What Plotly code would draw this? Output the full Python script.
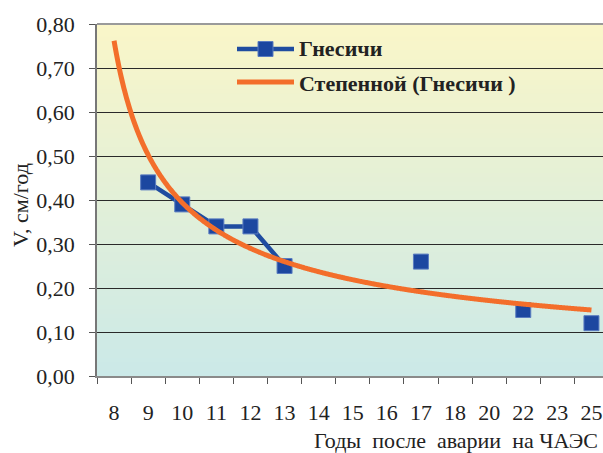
import numpy as np
import plotly.graph_objects as go

# ---- data ----
categories = ["8", "9", "10", "11", "12", "13", "14", "15", "16", "17", "18", "20", "22", "23", "25"]
gnesichi = [None, 0.44, 0.39, 0.34, 0.34, 0.25, None, None, None, 0.26, None, None, 0.15, None, 0.12]
y_ticks = [0.0, 0.1, 0.2, 0.3, 0.4, 0.5, 0.6, 0.7, 0.8]
series_name = "Гнесичи"
trend_name = "Степенной (Гнесичи )"
x_title = "Годы\u00a0\u00a0после\u00a0\u00a0аварии\u00a0\u00a0на ЧАЭС"
y_title = "V, см/год"

# ---- power trendline (Excel-style, x = category index) ----
idx = np.arange(1, len(categories) + 1)
xs = np.array([i for i, v in zip(idx, gnesichi) if v is not None], dtype=float)
ys = np.array([v for v in gnesichi if v is not None], dtype=float)
b, lna = np.polyfit(np.log(xs), np.log(ys), 1)
xt = np.linspace(1, len(categories), 400)
yt = np.exp(lna) * xt ** b

# ---- geometry helpers (pixel -> paper) ----
W, H = 603, 453
L, R, T, B = 97, 0, 24, 77
PW, PH = W - L - R, H - T - B
cat_px = 34.1


def px(x):
    return (x - L) / PW


def py(y):
    return (H - B - y) / PH


top_rgb = np.array([250, 246, 200])
bot_rgb = np.array([203, 233, 232])


def grad(frac_from_top):
    c = top_rgb + (bot_rgb - top_rgb) * frac_from_top
    return "rgb(%d,%d,%d)" % tuple(np.round(c).astype(int))


BLUE = "#1F4CA0"
ORANGE = "#F36E2B"
FONT = "'Times New Roman', 'Liberation Serif', 'DejaVu Serif', serif"
TXT = "#222"

fig = go.Figure()
fig.add_trace(go.Scatter(
    x=idx, y=gnesichi, mode="lines+markers", name=series_name,
    line=dict(color=BLUE, width=4.5),
    marker=dict(symbol="square", size=15, color="#1C47A0",
                line=dict(color="#5A7CC0", width=1)),
    connectgaps=False, showlegend=False,
))
fig.add_trace(go.Scatter(
    x=xt, y=yt, mode="lines", name=trend_name,
    line=dict(color=ORANGE, width=5, shape="spline"), showlegend=False,
))

shapes = []
N = 80
for i in range(N):
    shapes.append(dict(type="rect", xref="paper", yref="paper",
                       x0=0, x1=1, y0=1 - (i + 1) / N, y1=1 - i / N + 0.002,
                       fillcolor=grad((i + 0.5) / N), line=dict(width=0),
                       layer="below"))
# legend box mask over the gridline
shapes.append(dict(type="rect", xref="paper", yref="paper",
                   x0=px(216), x1=px(530), y0=py(72), y1=py(64),
                   fillcolor=grad((68 - T) / PH), line=dict(width=0), layer="between"))
# top border
shapes.append(dict(type="line", xref="paper", yref="paper",
                   x0=0, x1=1, y0=1, y1=1, line=dict(color="#9a9a9a", width=2),
                   layer="above"))
# legend samples
shapes.append(dict(type="line", xref="paper", yref="paper",
                   x0=px(237), x1=px(294), y0=py(49), y1=py(49),
                   line=dict(color=BLUE, width=4.5), layer="above"))
shapes.append(dict(type="rect", xref="paper", yref="paper",
                   x0=px(258), x1=px(273), y0=py(56.5), y1=py(41.5),
                   fillcolor="#1C47A0", line=dict(color="#5A7CC0", width=1), layer="above"))
shapes.append(dict(type="line", xref="paper", yref="paper",
                   x0=px(237), x1=px(294), y0=py(82), y1=py(82),
                   line=dict(color=ORANGE, width=5), layer="above"))

annotations = [
    dict(text="<b>%s</b>" % series_name, x=px(297), y=py(48), xref="paper", yref="paper",
         xanchor="left", yanchor="middle", showarrow=False,
         font=dict(family=FONT, size=22, color=TXT)),
    dict(text="<b>%s</b>" % trend_name, x=px(297), y=py(83), xref="paper", yref="paper",
         xanchor="left", yanchor="middle", showarrow=False,
         font=dict(family=FONT, size=22, color=TXT)),
    dict(text=y_title, x=px(20), y=py(205), xref="paper", yref="paper",
         xanchor="center", yanchor="middle", textangle=-90, showarrow=False,
         font=dict(family=FONT, size=22, color=TXT)),
    dict(text=x_title, x=px(600), y=py(440), xref="paper", yref="paper",
         xanchor="right", yanchor="middle", showarrow=False,
         font=dict(family=FONT, size=22, color=TXT)),
]

fig.update_layout(
    width=W, height=H, autosize=False,
    margin=dict(l=L, r=R, t=T, b=B, pad=0, autoexpand=False),
    paper_bgcolor="white", plot_bgcolor="rgba(0,0,0,0)",
    separators=", ",
    shapes=shapes, annotations=annotations,
    showlegend=False,
    font=dict(family=FONT, size=22, color=TXT),
)
fig.update_xaxes(
    automargin=False,
    range=[0.5, 0.5 + PW / cat_px],
    tickmode="array", tickvals=idx, ticktext=categories,
    ticks="", showgrid=False, zeroline=False,
    showline=True, linecolor="#8a8a8a", linewidth=2,
    ticklabelstandoff=16,
    tickfont=dict(family=FONT, size=22, color=TXT),
    minor=dict(tickmode="array", tickvals=[i + 0.5 for i in range(len(categories) + 1)],
               ticks="outside", ticklen=6, tickwidth=1, tickcolor="#555", showgrid=False),
)
fig.update_yaxes(
    automargin=False,
    range=[0, 0.8], tickmode="array", tickvals=y_ticks, tickformat=".2f",
    showgrid=True, gridcolor="#2a2a2a", gridwidth=1, zeroline=False,
    ticks="outside", ticklen=6, tickcolor="#555",
    showline=True, linecolor="#777", linewidth=1.5,
    ticklabelstandoff=10,
    tickfont=dict(family=FONT, size=22, color=TXT),
)

fig.write_html(
    "out.html",
    config={"displayModeBar": False},
    post_script="document.body.style.margin='0';document.body.style.overflow='hidden';",
)
